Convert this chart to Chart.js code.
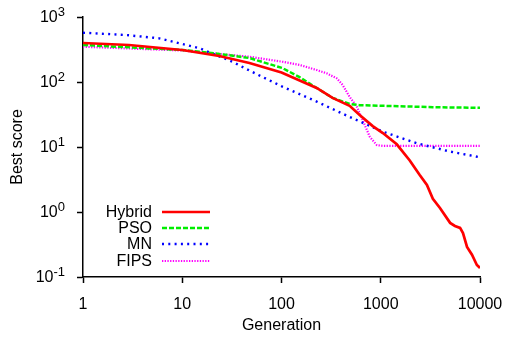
<!DOCTYPE html>
<html>
<head>
<meta charset="utf-8">
<script src="https://cdn.jsdelivr.net/npm/chart.js@4"></script>
<style>
  body { margin: 0; background: #fff; }
  canvas { display: block; }
</style>
</head>
<body>
<canvas id="scoreChart" width="507" height="338"></canvas>
<script>
/* data */
const seriesNames = ["Hybrid", "PSO", "MN", "FIPS"];

const hybridGen = [1, 2.9, 10, 23.6, 47.5, 100, 226, 327, 486, 613, 830, 1050, 1450, 1960, 2470, 2920, 3350, 3950, 5000, 5590, 6300, 6740, 7400, 8300, 9300, 10000];
const hybridScore = [398, 371, 311, 251, 196, 140, 81, 57, 43, 31, 21, 16.4, 11.0, 6.2, 3.7, 2.6, 1.6, 1.15, 0.68, 0.61, 0.57, 0.475, 0.29, 0.22, 0.153, 0.138];

const psoGen = [1, 10, 23.6, 47.5, 102, 152, 226, 327, 486, 613, 1050, 3350, 10000];
const psoScore = [371, 311, 270, 234, 164, 119, 81, 57, 46, 44, 43, 41, 40];

const mnGen = [1, 2.72, 5.86, 11, 14.9, 22, 32, 47.5, 102, 226, 486, 1050, 2310, 5000, 10000];
const mnScore = [573, 528, 470, 371, 330, 260, 205, 150, 85, 50, 29, 17.2, 11.4, 8.5, 6.95];

const fipsGen = [1, 10, 47.5, 102, 152, 226, 285, 360, 413, 486, 572, 658, 774, 912, 1050, 10000];
const fipsScore = [349, 305, 245, 205, 183, 153, 136, 114, 90, 59, 42, 26, 14.4, 10.7, 10.4, 10.4];

const xTicks = [1, 10, 100, 1000, 10000];
const yTickExp = [-1, 0, 1, 2, 3];

const FONT = "'Liberation Sans', Arial, Helvetica, sans-serif";

function toPoints(gen, score) {
  return gen.map((g, i) => ({ x: g, y: score[i] }));
}

/* 축 제목, y 눈금, 범례 */
const overlayPlugin = {
  id: "overlay",
  afterDraw(chart) {
    const ctx = chart.ctx;
    const yScale = chart.scales.y;
    const area = chart.chartArea;
    ctx.save();
    ctx.fillStyle = "#000";

    // y tick labels 10^n
    yTickExp.forEach((e) => {
      const py = yScale.getPixelForValue(Math.pow(10, e));
      const sup = e < 0 ? "-" + Math.abs(e) : String(e);
      ctx.font = "13px " + FONT;
      const supW = ctx.measureText(sup).width;
      const right = 65;
      ctx.textAlign = "right";
      ctx.textBaseline = "middle";
      ctx.fillText(sup, right, py - 5);
      ctx.font = "16px " + FONT;
      ctx.fillText("10", right - supW, py + 1);
    });

    // axis titles
    ctx.font = "16px " + FONT;
    ctx.textAlign = "center";
    ctx.textBaseline = "middle";
    ctx.fillText("Generation", (area.left + area.right) / 2, 326);
    ctx.save();
    ctx.translate(18, (area.top + area.bottom) / 2);
    ctx.rotate(-Math.PI / 2);
    ctx.fillText("Best score", 0, 0);
    ctx.restore();

    // legend
    const rows = [212, 228, 244, 261];
    chart.data.datasets.forEach((ds, i) => {
      ctx.textAlign = "right";
      ctx.fillStyle = "#000";
      ctx.font = "16px " + FONT;
      ctx.fillText(ds.label, 152, rows[i] + 1);
      ctx.beginPath();
      ctx.strokeStyle = ds.borderColor;
      ctx.lineWidth = ds.borderWidth;
      ctx.setLineDash(ds.borderDash || []);
      ctx.lineCap = "butt";
      ctx.moveTo(162, rows[i]);
      ctx.lineTo(210, rows[i]);
      ctx.stroke();
    });
    ctx.restore();
  }
};

const chartElement = document.getElementById("scoreChart");

new Chart(chartElement, {
  type: "scatter",
  data: {
    datasets: [
      {
        label: seriesNames[0],
        data: toPoints(hybridGen, hybridScore),
        borderColor: "#ff0000",
        borderWidth: 2.7,
        borderDash: []
      },
      {
        label: seriesNames[1],
        data: toPoints(psoGen, psoScore),
        borderColor: "#00ee00",
        borderWidth: 2.5,
        borderDash: [5, 2]
      },
      {
        label: seriesNames[2],
        data: toPoints(mnGen, mnScore),
        borderColor: "#0000ff",
        borderWidth: 2.4,
        borderDash: [2, 4.3]
      },
      {
        label: seriesNames[3],
        data: toPoints(fipsGen, fipsScore),
        borderColor: "#ff00ff",
        borderWidth: 2.2,
        borderDash: [1.3, 1.4]
      }
    ]
  },
  options: {
    responsive: false,
    animation: false,
    showLine: true,
    elements: {
      point: { radius: 0, hoverRadius: 0 },
      line: { tension: 0, fill: false }
    },
    layout: { padding: { top: 17, right: 27, left: 0, bottom: 0 } },
    plugins: {
      legend: { display: false },
      tooltip: { enabled: false }
    },
    scales: {
      x: {
        type: "logarithmic",
        min: 1,
        max: 10000,
        afterBuildTicks: (scale) => {
          scale.ticks = xTicks.map((v) => ({ value: v }));
        },
        afterFit: (scale) => {
          scale.height = 61;
          scale.paddingLeft = 0;
          scale.paddingRight = 0;
        },
        grid: {
          drawOnChartArea: false,
          drawTicks: true,
          tickLength: 6,
          tickWidth: 1.5,
          tickColor: "#000"
        },
        border: { display: true, color: "#000", width: 1.5 },
        ticks: {
          color: "#000",
          font: { family: FONT, size: 16 },
          padding: 12,
          maxRotation: 0,
          autoSkip: false,
          callback: (v) => String(v)
        }
      },
      y: {
        type: "logarithmic",
        min: 0.1,
        max: 1000,
        afterBuildTicks: (scale) => {
          scale.ticks = yTickExp.map((e) => ({ value: Math.pow(10, e) }));
        },
        afterFit: (scale) => {
          scale.width = 83;
          scale.paddingTop = 0;
          scale.paddingBottom = 0;
        },
        grid: {
          drawOnChartArea: false,
          drawTicks: true,
          tickLength: 6,
          tickWidth: 1.5,
          tickColor: "#000"
        },
        border: { display: true, color: "#000", width: 1.5 },
        ticks: {
          autoSkip: false,
          callback: () => ""
        }
      }
    }
  },
  plugins: [overlayPlugin]
});
</script>
</body>
</html>
